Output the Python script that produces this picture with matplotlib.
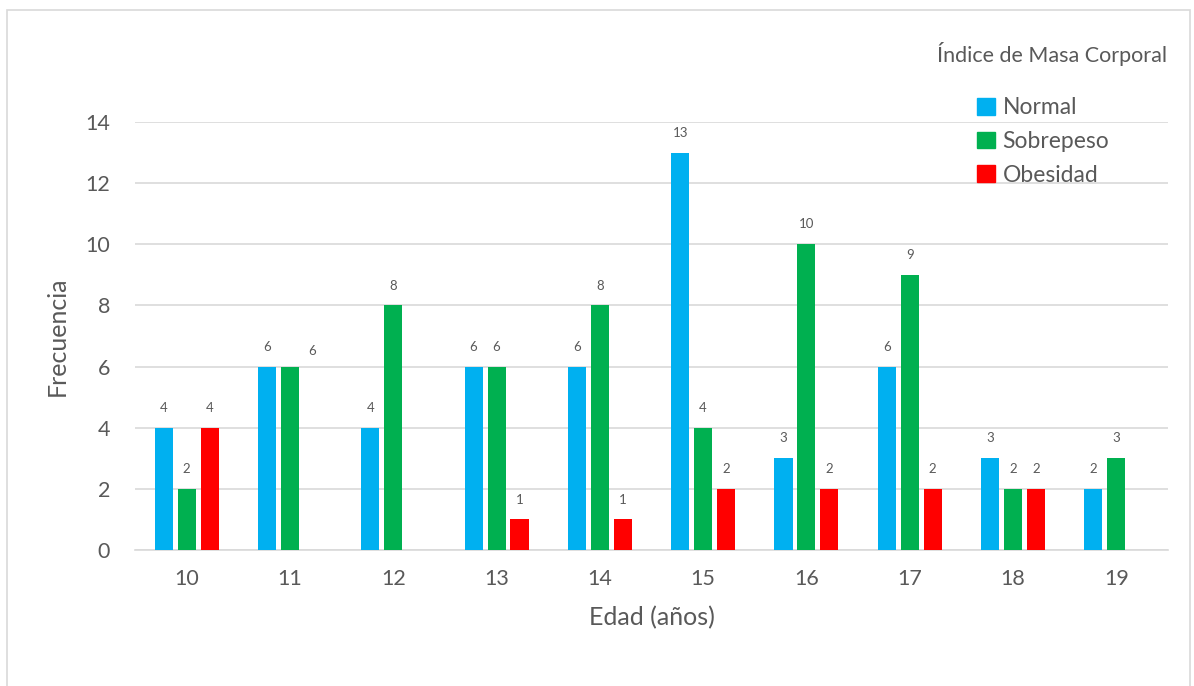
import numpy as np
import matplotlib.pyplot as plt
from matplotlib.patches import Rectangle, Patch

plt.rcParams['font.family'] = ['Lato', 'DejaVu Sans']

edades = ['10', '11', '12', '13', '14', '15', '16', '17', '18', '19']
normal = [4, 6, 4, 6, 6, 13, 3, 6, 3, 2]
sobrepeso = [2, 6, 8, 6, 8, 4, 10, 9, 2, 3]
obesidad = [4, 0, 0, 1, 1, 2, 2, 2, 2, 0]
series = ['Normal', 'Sobrepeso', 'Obesidad']
colores = ['#00b0f0', '#00b050', '#ff0000']
gris = '#595959'

fig = plt.figure(figsize=(11.94, 6.86), dpi=100)
fig.patches.append(Rectangle((7 / 1194, -10 / 686), 1183 / 1194, 686 / 686,
                             transform=fig.transFigure, fill=False,
                             edgecolor='#d9d9d9', linewidth=1.2))
ax = fig.add_axes([135 / 1194, 1 - 550 / 686, 1033 / 1194, 428 / 686])

x = np.arange(len(edades))
w = 0.175
off = 0.222
for i, (vals, col) in enumerate(zip([normal, sobrepeso, obesidad], colores)):
    pos = x + (i - 1) * off
    for j, (p, v) in enumerate(zip(pos, vals)):
        if v == 0:
            continue
        ax.bar(p, v, width=w, color=col, zorder=3)
        # the original shifts the green label of age 11 to the right
        dx, dy = (16, 7) if (i == 1 and edades[j] == '11') else (0, 10)
        ax.annotate(str(v), (p, v), xytext=(dx, dy), textcoords='offset points',
                    ha='center', va='bottom', fontsize=9.5, color=gris)

ax.set_xlim(-0.5, len(edades) - 0.5)
ax.set_ylim(0, 14)
ax.set_yticks(range(0, 15, 2))
ax.set_xticks(x)
ax.set_xticklabels(edades)
ax.grid(axis='y', color='#d9d9d9', linewidth=1.2, zorder=0)
for s in ['top', 'right', 'left']:
    ax.spines[s].set_visible(False)
ax.spines['bottom'].set_color('#d9d9d9')
ax.spines['bottom'].set_linewidth(1.2)
ax.tick_params(axis='y', length=0, labelsize=15.5, labelcolor=gris, pad=18)
ax.tick_params(axis='x', length=0, labelsize=15.5, labelcolor=gris, pad=14)
ax.set_xlabel('Edad (años)', fontsize=18, color=gris, labelpad=12)
ax.set_ylabel('Frecuencia', fontsize=18, color=gris, labelpad=12)

fig.text(1167 / 1194, 1 - 54 / 686, 'Índice de Masa Corporal', ha='right',
         va='center', fontsize=15.5, color=gris)
handles = [Patch(color=c, label=s) for s, c in zip(series, colores)]
leg = fig.legend(handles=handles, loc='upper left',
                 bbox_to_anchor=(966 / 1194, 1 - 86 / 686), frameon=False,
                 fontsize=16.5, handlelength=0.75, handleheight=0.75,
                 handletextpad=0.35, labelspacing=0.55, borderpad=0)
for t in leg.get_texts():
    t.set_color(gris)

fig.savefig('out.png', dpi=100)
